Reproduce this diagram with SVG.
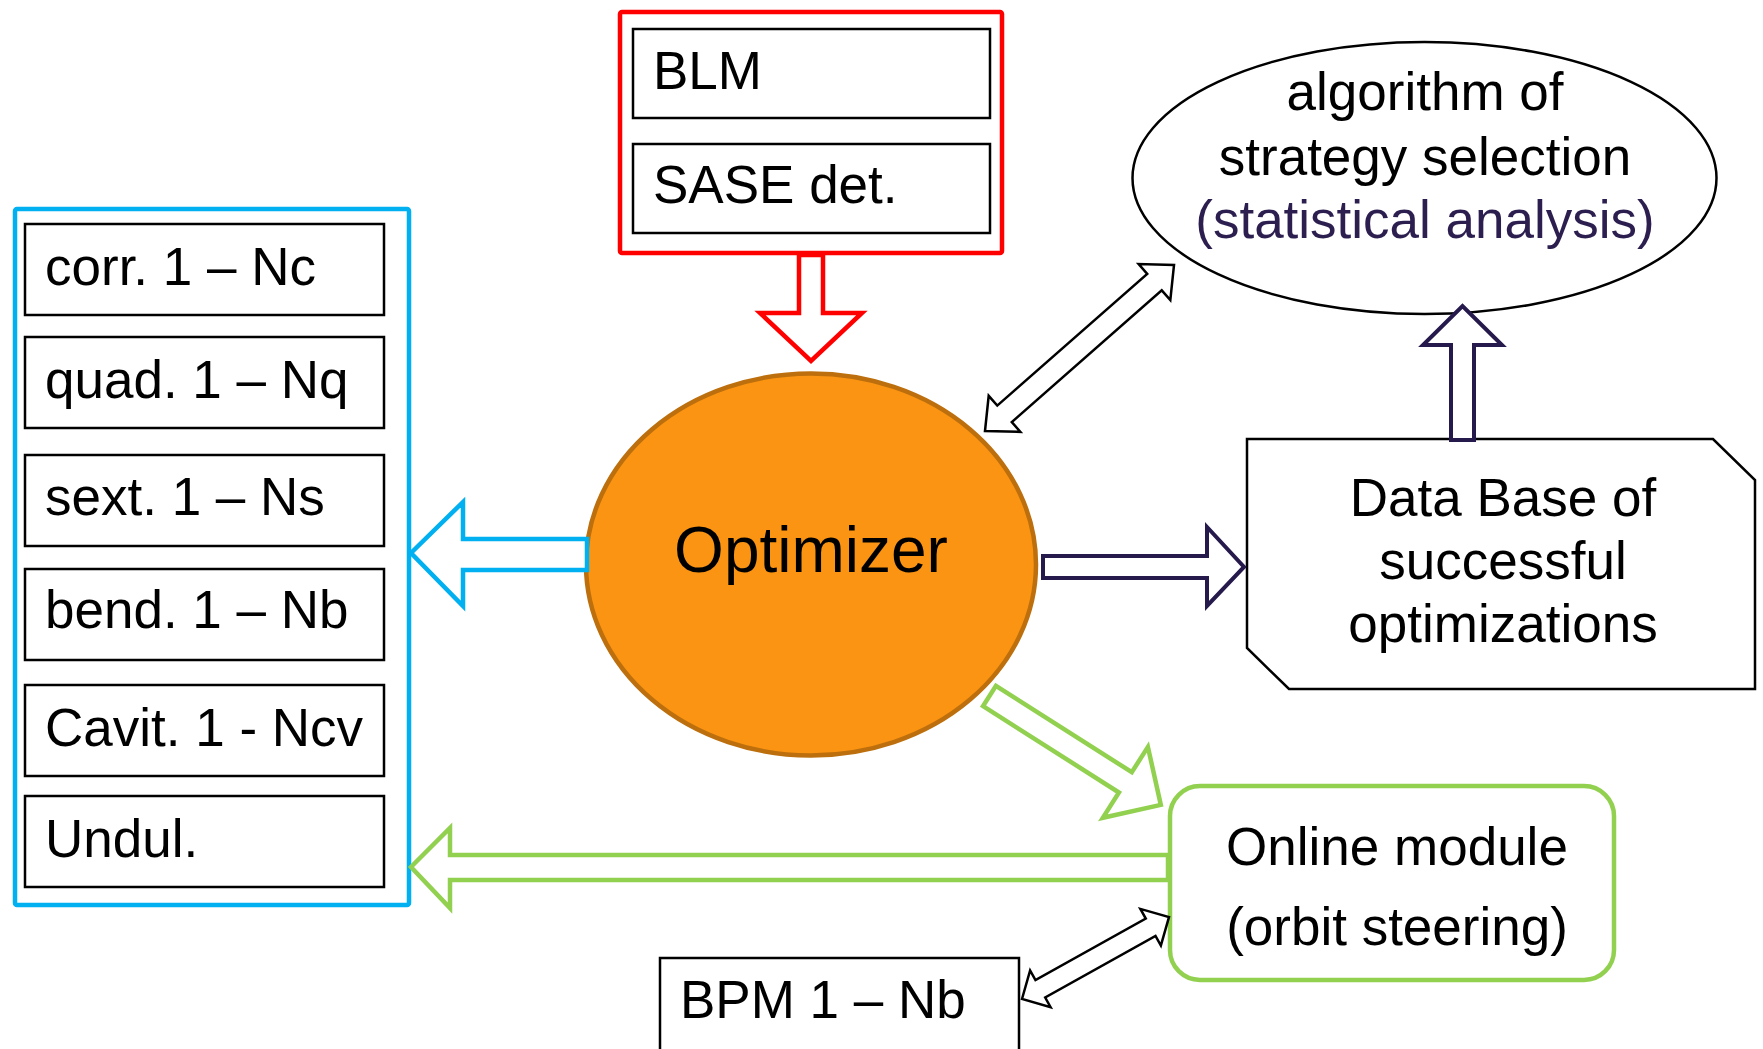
<svg xmlns="http://www.w3.org/2000/svg" width="1763" height="1049" viewBox="0 0 1763 1049">
<style>
text{font-family:"Liberation Sans",Arial,sans-serif;font-size:53px;fill:#000}
.box{fill:#fff;stroke:#000;stroke-width:2.5}
.c{text-anchor:middle}
.thin{fill:#fff;stroke:#000;stroke-width:2.5;stroke-linejoin:miter}
.navy{fill:#fff;stroke:#261A4C;stroke-width:4}
.green{fill:#fff;stroke:#92D050;stroke-width:4.5}
</style>
<rect width="1763" height="1049" fill="#fff"/>
<g id="sensors">
<rect x="620" y="12" width="382" height="241" fill="#fff" stroke="#FF0000" stroke-width="4.5" rx="2"/>
<rect class="box" x="633" y="29" width="357" height="89"/>
<text x="653" y="89">BLM</text>
<rect class="box" x="633" y="144" width="357" height="89"/>
<text x="653" y="203">SASE det.</text>
</g>
<g id="actuators">
<rect x="15" y="209" width="394" height="696" fill="#fff" stroke="#00B0F0" stroke-width="4.5" rx="2"/>
<rect class="box" x="25" y="224" width="359" height="91"/>
<text x="45" y="285">corr. 1 – Nc</text>
<rect class="box" x="25" y="337" width="359" height="91"/>
<text x="45" y="398">quad. 1 – Nq</text>
<rect class="box" x="25" y="455" width="359" height="91"/>
<text x="45" y="515">sext. 1 – Ns</text>
<rect class="box" x="25" y="569" width="359" height="91"/>
<text x="45" y="628">bend. 1 – Nb</text>
<rect class="box" x="25" y="685" width="359" height="91"/>
<text x="45" y="746">Cavit. 1 - Ncv</text>
<rect class="box" x="25" y="796" width="359" height="91"/>
<text x="45" y="857">Undul.</text>
</g>
<g id="optimizer">
<ellipse cx="811" cy="564.5" rx="225" ry="191" fill="#FB9412" stroke="#BC6F0C" stroke-width="4.5"/>
<text class="c" x="811" y="572" style="font-size:64px">Optimizer</text>
</g>
<g id="algorithm">
<ellipse cx="1424.5" cy="178" rx="292" ry="136" fill="#fff" stroke="#000" stroke-width="2.5"/>
<text class="c" x="1425" y="110">algorithm of</text>
<text class="c" x="1425" y="175">strategy selection</text>
<text class="c" x="1425" y="238" style="fill:#2C1F4F">(statistical analysis)</text>
</g>
<g id="database">
<polygon class="box" points="1247,439 1713,439 1755,480 1755,689 1289,689 1247,648"/>
<text class="c" x="1503" y="516">Data Base of</text>
<text class="c" x="1503" y="579">successful</text>
<text class="c" x="1503" y="642">optimizations</text>
</g>
<g id="online">
<rect x="1170" y="786" width="444" height="194" rx="30" fill="#fff" stroke="#92D050" stroke-width="4.5"/>
<text class="c" x="1397" y="865">Online module</text>
<text class="c" x="1397" y="945">(orbit steering)</text>
</g>
<g id="bpm">
<rect class="box" x="660" y="958" width="359" height="110"/>
<text x="680" y="1018">BPM 1 – Nb</text>
</g>
<g id="connectors">
<polygon points="799,255 799,313 760,313 811,361 862,313 823,313 823,255" fill="#fff" stroke="#FF0000" stroke-width="4.5"/>
<polygon points="587,539 463,539 463,502 411,553 463,606 463,570 587,570" fill="#fff" stroke="#00B0F0" stroke-width="4.5"/>
<polygon class="green" points="1168,855 450,855 450,828 411,867 450,908 450,880 1168,880"/>
<polygon class="green" transform="translate(989.5,696) rotate(32.44)" points="0,-12 161,-12 161,-42 203,0 161,42 161,12 0,12"/>
<polygon class="navy" points="1043,556 1207,556 1207,527 1244,567 1207,606 1207,578 1043,578"/>
<polygon class="navy" points="1451,440 1451,345 1423,345 1462.5,306 1502,345 1474,345 1474,440"/>
<polygon class="thin" transform="translate(985,431) rotate(-41.3)" points="0,0 26,-24 26,-11 225.6,-11 225.6,-24 251.6,0 225.6,24 225.6,11 26,11 26,24"/>
<polygon class="thin" transform="translate(1022,999) rotate(-29.15)" points="0,0 21,-21 21,-10 147.3,-10 147.3,-21 168.3,0 147.3,21 147.3,10 21,10 21,21"/>
</g>
</svg>
